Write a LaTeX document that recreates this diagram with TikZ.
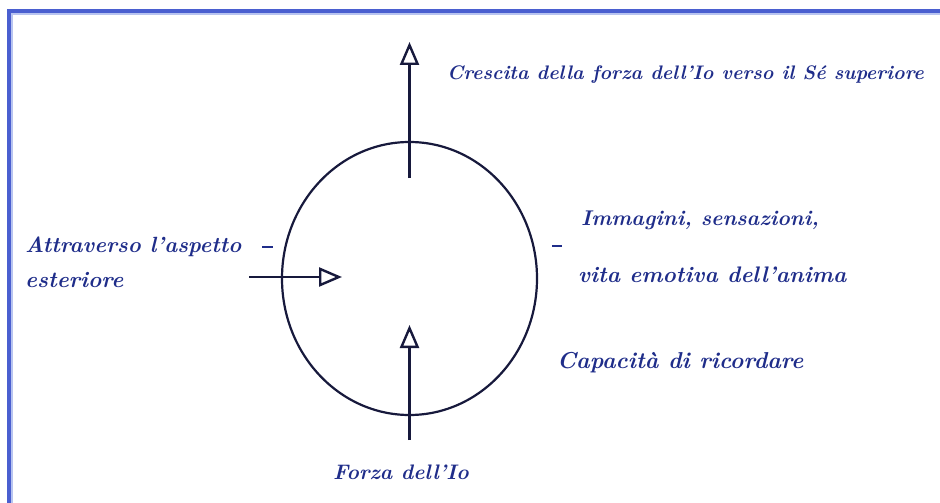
\documentclass[tikz,border=0pt]{standalone}
\usetikzlibrary{arrows.meta,shapes.geometric}
\definecolor{frameblue}{HTML}{4A5FD0}
\definecolor{framelight}{HTML}{B8C4F0}
\definecolor{inkline}{HTML}{17193C}
\definecolor{inktext}{HTML}{1F2D8A}
\tikzset{
  lbl/.style={text=inktext, font=\fontsize{#1}{#1}\selectfont\bfseries\itshape, inner sep=0pt, anchor=west},
  ring/.style={draw=inkline, line width=2.2pt, ellipse, minimum width=255pt, minimum height=273pt, inner sep=0pt},
  arr/.style={draw=inkline, line width=2.6pt, -{Triangle[open, length=23pt, width=19pt, line width=2.4pt]}},
  tick/.style={draw=inktext, line width=1.2pt}
}
\begin{document}
\begin{tikzpicture}[x=1pt,y=-1pt]
\useasboundingbox (0,0) rectangle (940,503);
\fill[white] (0,0) rectangle (940,503);
% frame
\fill[framelight] (7,9) rectangle (940,15);
\fill[framelight] (7,9) rectangle (13,503);
\fill[frameblue] (7,9) rectangle (940,13);
\fill[frameblue] (7,9) rectangle (11,503);
% circle
\node[ring] (circ) at (409.5,278.5) {};
% coordinates for connectors
\coordinate (topstart) at (409.5,178);
\coordinate (toptip) at (409.5,42);
\coordinate (botstart) at (409.5,440);
\coordinate (bottip) at (409.5,325);
\coordinate (leftstart) at (249,277);
\coordinate (lefttip) at (342,277);
\draw[arr] (topstart) -- (toptip);
\draw[arr] (botstart) -- (bottip);
\draw[arr] (leftstart) -- (lefttip);
% small ticks
\coordinate (tl1) at (262,247);
\coordinate (tl2) at (273,247);
\coordinate (tr1) at (552,246);
\coordinate (tr2) at (562,246);
\draw[tick] (tl1) -- (tl2);
\draw[tick] (tr1) -- (tr2);
% labels
\node[lbl=19.6] (crescita) at (447,75) {Crescita della forza dell'Io verso il Sé superiore};
\node[lbl=21.3] (immagini) at (581,220) {Immagini, sensazioni,};
\node[lbl=22.5] (vita) at (578,275) {vita emotiva dell'anima};
\node[lbl=22] (attraverso) at (25,247) {Attraverso l'aspetto};
\node[lbl=22.5] (esteriore) at (25,280) {esteriore};
\node[lbl=23] (capacita) at (557,363) {Capacità di ricordare};
\node[lbl=21] (forza) at (333,472) {Forza dell'Io};
\end{tikzpicture}
\end{document}
